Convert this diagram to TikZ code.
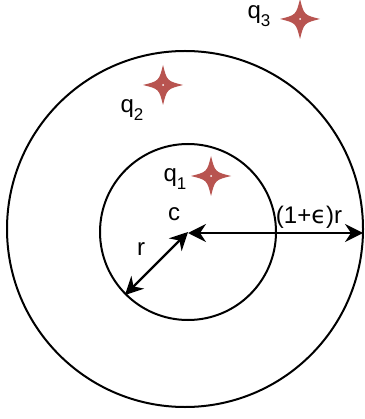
\documentclass[tikz,border=0pt]{standalone}
\usepackage{fontspec}
\setmainfont{Liberation Sans}
\newfontfamily\dejavu{DejaVu Sans}
\usetikzlibrary{arrows.meta}
\definecolor{starred}{RGB}{184,84,80}
\newcommand{\qlab}[1]{q\raisebox{-8pt}{\fontsize{17}{17}\selectfont #1}}
\tikzset{
  ring/.style={draw=black, line width=2pt},
  dim/.style={line width=2.2pt, {Stealth[length=18pt,width=18pt,inset=6pt]}-{Stealth[length=18pt,width=18pt,inset=6pt]}},
  lab/.style={anchor=base, inner sep=0pt, font=\fontsize{24}{24}\selectfont}
}
\newcommand{\fourstar}[2]{%
  \fill[starred] (#1,#2) ++(0,-20) .. controls ++(4,16) .. ++(20,20)
     .. controls ++(-16,4) .. ++(-20,20)
     .. controls ++(-4,-16) .. ++(-20,-20)
     .. controls ++(16,-4) .. cycle;
  \fill[white] (#1,#2) circle (1pt);
}
\begin{document}
\begin{tikzpicture}[x=1pt,y=-1pt]
\useasboundingbox (0,0) rectangle (364,419);
\fill[white] (0,0) rectangle (364,419);
\coordinate (c) at (188,232);
\coordinate (cc) at (188,233);
\coordinate (rend) at (125,295);
\coordinate (eend) at (363,233);
\node[ring, circle, minimum size=356pt, inner sep=0pt] (outer) at (185,229) {};
\node[ring, circle, minimum size=176pt, inner sep=0pt] (inner) at (c) {};
\draw[dim] (cc) -- (eend);
\draw[dim] (c) -- (rend);
\fourstar{211}{176}
\fourstar{163}{85}
\fourstar{300}{19}
\node[lab] (q1) at (175,182) {\qlab{1}};
\node[lab] (q2) at (132,113) {\qlab{2}};
\node[lab] (q3) at (259,19) {\qlab{3}};
\node[lab] (clab) at (174,220) {c};
\node[lab] (rlab) at (141,255) {r};
\node[lab] (elab) at (309,223) {(1+{\dejavu ϵ})r};
\end{tikzpicture}
\end{document}
